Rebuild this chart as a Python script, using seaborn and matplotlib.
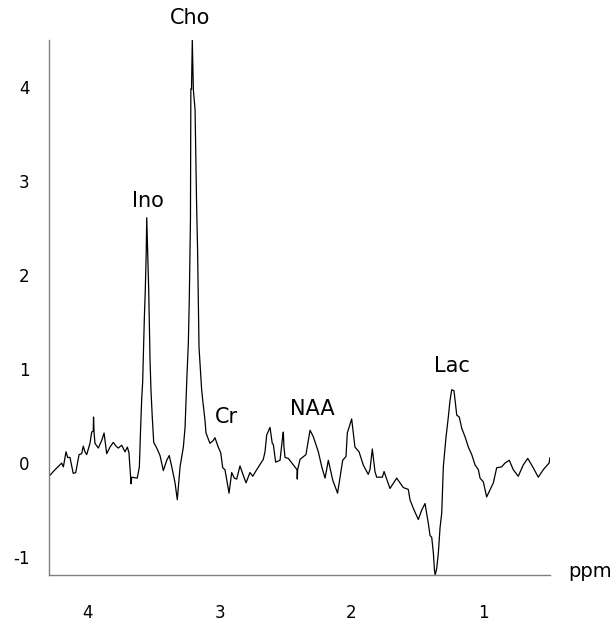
import pandas as pd
import matplotlib.pyplot as plt
import seaborn as sns

# Spectrum (chemical shift in ppm, signal intensity)
ppm = [4.296, 4.250, 4.200, 4.187, 4.167, 4.154, 4.137, 4.112, 4.093, 4.068,
       4.048, 4.036, 4.023, 4.010, 3.985, 3.972, 3.960, 3.958, 3.954, 3.947,
       3.922, 3.896, 3.878, 3.858, 3.833, 3.808, 3.787, 3.770, 3.744, 3.719,
       3.701, 3.689, 3.673, 3.668, 3.626, 3.610, 3.601, 3.592, 3.585, 3.579,
       3.572, 3.565, 3.558, 3.554, 3.547, 3.539, 3.533, 3.529, 3.522, 3.512,
       3.501, 3.478, 3.453, 3.428, 3.402, 3.383, 3.364, 3.339, 3.322, 3.301,
       3.276, 3.263, 3.250, 3.238, 3.231, 3.225, 3.222, 3.219, 3.214, 3.208,
       3.200, 3.187, 3.176, 3.168, 3.157, 3.137, 3.129, 3.112, 3.104, 3.074,
       3.049, 3.036, 3.011, 2.992, 2.977, 2.960, 2.929, 2.909, 2.889, 2.871,
       2.846, 2.821, 2.800, 2.770, 2.749, 2.719, 2.669, 2.656, 2.643, 2.633,
       2.618, 2.601, 2.593, 2.575, 2.542, 2.522, 2.517, 2.512, 2.504, 2.479,
       2.413, 2.411, 2.408, 2.390, 2.345, 2.314, 2.289, 2.251, 2.225, 2.200,
       2.175, 2.142, 2.105, 2.066, 2.041, 2.031, 1.998, 1.973, 1.942, 1.910,
       1.872, 1.859, 1.841, 1.821, 1.808, 1.765, 1.752, 1.707, 1.656, 1.606,
       1.568, 1.555, 1.530, 1.492, 1.466, 1.441, 1.416, 1.403, 1.390, 1.378,
       1.369, 1.364, 1.352, 1.340, 1.327, 1.314, 1.302, 1.282, 1.264, 1.251,
       1.238, 1.221, 1.200, 1.181, 1.162, 1.137, 1.112, 1.086, 1.061, 1.036,
       1.023, 0.998, 0.973, 0.942, 0.922, 0.897, 0.859, 0.834, 0.801, 0.771,
       0.733, 0.695, 0.661, 0.619, 0.581, 0.543, 0.499, 0.492]
signal = [-0.14, -0.07, 0.00, -0.04, 0.12, 0.06, 0.06, -0.11, -0.10, 0.09,
          0.10, 0.18, 0.12, 0.09, 0.21, 0.33, 0.34, 0.49, 0.33, 0.21,
          0.16, 0.24, 0.32, 0.10, 0.17, 0.22, 0.18, 0.16, 0.19, 0.12,
          0.17, 0.11, -0.22, -0.15, -0.16, -0.04, 0.35, 0.69, 0.86, 1.17,
          1.55, 1.84, 2.23, 2.61, 2.23, 1.84, 1.41, 1.10, 0.78, 0.49,
          0.22, 0.16, 0.08, -0.08, 0.03, 0.08, -0.04, -0.21, -0.39, -0.04,
          0.17, 0.38, 0.88, 1.28, 1.73, 2.27, 2.59, 3.98, 3.98, 4.50,
          3.97, 3.76, 2.80, 2.27, 1.23, 0.78, 0.67, 0.46, 0.32, 0.21,
          0.24, 0.27, 0.17, 0.11, -0.05, -0.07, -0.32, -0.10, -0.16, -0.17,
          -0.03, -0.13, -0.21, -0.10, -0.14, -0.07, 0.04, 0.12, 0.30, 0.33,
          0.38, 0.21, 0.20, 0.01, 0.03, 0.28, 0.33, 0.17, 0.06, 0.05,
          -0.07, -0.17, -0.07, 0.04, 0.09, 0.35, 0.28, 0.12, -0.04, -0.16,
          0.03, -0.18, -0.32, 0.03, 0.07, 0.32, 0.47, 0.17, 0.12, -0.02,
          -0.12, -0.07, 0.15, -0.09, -0.15, -0.15, -0.09, -0.27, -0.16, -0.26,
          -0.28, -0.39, -0.48, -0.60, -0.50, -0.43, -0.64, -0.77, -0.79, -0.95,
          -1.14, -1.19, -1.12, -0.96, -0.69, -0.53, -0.04, 0.27, 0.49, 0.67,
          0.78, 0.77, 0.51, 0.49, 0.37, 0.28, 0.17, 0.09, -0.02, -0.07,
          -0.16, -0.20, -0.36, -0.27, -0.21, -0.05, -0.04, 0.00, 0.03, -0.07,
          -0.14, -0.02, 0.05, -0.05, -0.15, -0.07, 0.00, 0.06]

# Metabolite labels and where they sit
peak_names = ['Cho', 'Ino', 'Cr', 'NAA', 'Lac']
peak_x = [3.222, 3.544, 2.952, 2.294, 1.238]
peak_y = [4.73, 2.79, 0.49, 0.58, 1.03]

x_ticks = [4, 3, 2, 1]
y_ticks = [-1, 0, 1, 2, 3, 4]

df = pd.DataFrame({'ppm': ppm, 'signal': signal})

sns.set_style('white')
plt.rcParams['font.family'] = ['DejaVu Sans']

fig = plt.figure(figsize=(6.15, 6.22), dpi=100)
ax = fig.add_axes([0.0797, 0.0756, 0.8146, 0.8601])

sns.lineplot(data=df, x='ppm', y='signal', sort=False, estimator=None,
             color='black', linewidth=0.9, ax=ax)

ax.set_xlim(4.296, 0.492)
ax.set_ylim(-1.19, 4.5)
ax.set_xticks(x_ticks)
ax.set_yticks(y_ticks)
ax.set_xticklabels([str(t) for t in x_ticks])
ax.set_yticklabels([str(t) for t in y_ticks])
ax.set_xlabel('')
ax.set_ylabel('')

sns.despine(ax=ax)
for side in ['left', 'bottom']:
    ax.spines[side].set_color('#808080')
    ax.spines[side].set_linewidth(1.0)
ax.tick_params(axis='x', direction='out', length=13, width=0.9, color='#808080',
               pad=8, labelsize=12, labelcolor='black')
ax.tick_params(axis='y', direction='out', length=10, width=0.9, color='#808080',
               pad=4, labelsize=12, labelcolor='black')

for name, px, py in zip(peak_names, peak_x, peak_y):
    ax.text(px, py, name, ha='center', va='center', fontsize=15, color='black')

ax.text(0.355, -1.213, 'ppm', ha='left', va='baseline', fontsize=14, color='black')

fig.savefig('out.png', dpi=100)
